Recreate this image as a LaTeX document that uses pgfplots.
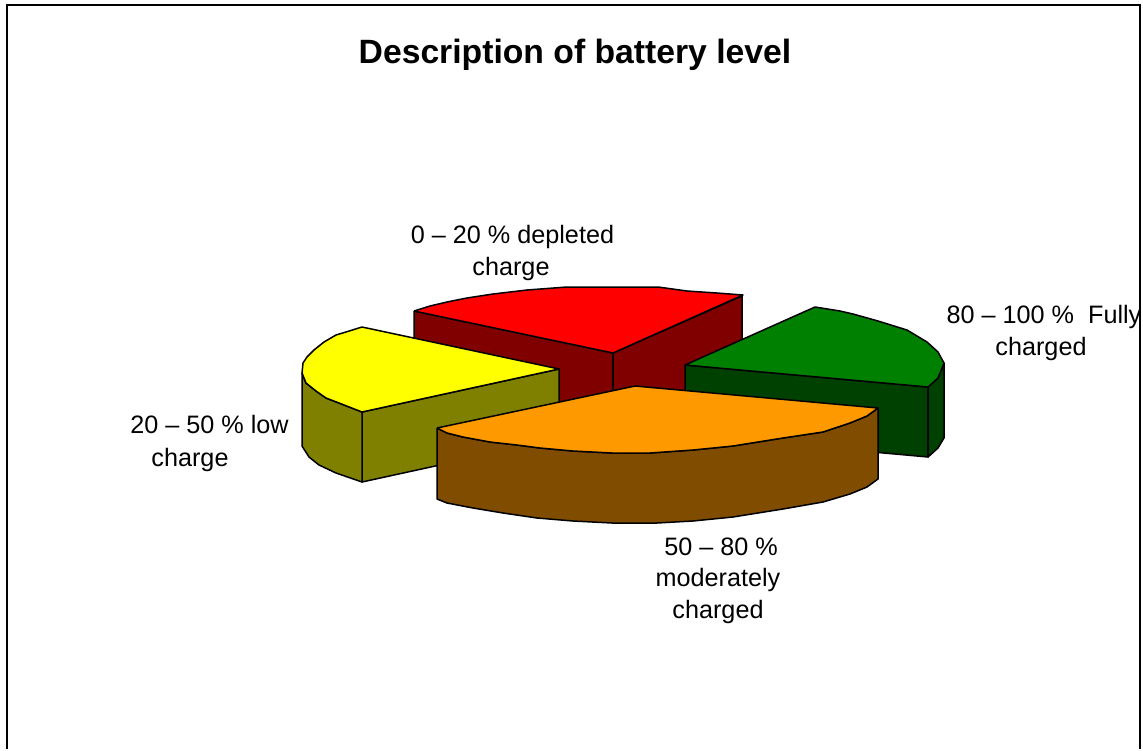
\documentclass[border=0pt]{standalone}
\usepackage{pgfplots}
\pgfplotsset{compat=1.18}
\usepackage{fontspec}
\setmainfont{Liberation Sans}
\definecolor{cred}{HTML}{FF0000}
\definecolor{dred}{HTML}{800000}
\definecolor{cyel}{HTML}{FFFF00}
\definecolor{dyel}{HTML}{808000}
\definecolor{cgre}{HTML}{008000}
\definecolor{dgre}{HTML}{004000}
\definecolor{cora}{HTML}{FF9900}
\definecolor{dora}{HTML}{804C00}
\tikzset{lab/.style={anchor=base, font=\fontsize{25.2}{30}\selectfont, text=black, inner sep=0pt}}
\begin{document}
\begin{tikzpicture}
\begin{axis}[
  scale only axis, width=1143pt, height=750pt,
  xmin=0, xmax=1143, ymin=0, ymax=750, y dir=reverse,
  hide axis, clip=false,
  every axis plot/.append style={draw=black, line width=1.5pt, line join=round, mark=none}
]
% page background, fixes the size of the picture
\addplot[draw=none, fill=white] coordinates {(0,0)(1143,0)(1143,750)(0,750)(0,0)};
% frame
\addplot[draw=black, line width=2.2pt, line join=miter] coordinates {(7,749)(7,5)(1140,5)(1140,749)};
% red slice
\addplot[fill=dred] coordinates {(414,311)(613,353)(613,423)(414,381)(414,311)};
\addplot[fill=dred] coordinates {(613,353)(742,296)(742,366)(613,423)(613,353)};
\addplot[fill=cred] coordinates {(414,311)(430,306)(447,302)(467,298)(493,294)(527,290)(567,287)(658,287)(687,291)(717,293)(743,295)(613,353)(414,311)};
% yellow slice
\addplot[fill=dyel] coordinates {(362,412)(559,369)(559,439)(362,482)(362,412)};
\addplot[fill=dyel] coordinates {(302,373)(306,383)(316,391)(326,398)(339,403)(362,412)(362,482)(336,473)(319,465)(309,457)(302,446)(302,373)};
\addplot[fill=cyel] coordinates {(362,327)(346,332)(336,335)(324,342)(314,350)(307,357)(303,363)(302,373)(306,383)(316,391)(326,398)(339,403)(362,412)(559,369)(362,327)};
% green slice
\addplot[fill=dgre] coordinates {(685,365)(928,387)(928,457)(685,435)(685,365)};
\addplot[fill=dgre] coordinates {(928,387)(938,378)(944,363)(944,438)(938,448)(928,457)(928,387)};
\addplot[fill=cgre] coordinates {(815,307)(840,311)(853,314)(878,321)(907,330)(927,342)(938,352)(944,363)(938,378)(928,387)(685,365)(815,307)};
% orange slice
\addplot[fill=dora] coordinates {(437,428)(447,433)(463,437)(490,442)(517,445)(540,448)(573,451)(612,453)(650,453)(693,450)(733,446)(783,438)(823,432)(850,423)(867,416)(878,408)(878,479)(867,487)(850,494)(823,502)(783,509)(733,517)(693,521)(657,523)(612,523)(573,521)(537,518)(503,513)(473,508)(447,503)(437,499)(437,428)};
\addplot[fill=cora] coordinates {(437,428)(635,386)(878,408)(867,416)(850,423)(823,432)(783,438)(733,446)(693,450)(650,453)(612,453)(573,451)(540,448)(517,445)(490,442)(463,437)(447,433)(437,428)};
% texts
\node[anchor=base, inner sep=0pt, font=\fontsize{33.7}{40}\selectfont\bfseries] at (axis cs:575,63) {Description of battery level};
\node[lab] at (axis cs:512.5,243) {0 – 20 \% depleted};
\node[lab] at (axis cs:511,275) {charge};
\node[lab] at (axis cs:1044,323) {80 – 100 \%\ \ Fully};
\node[lab] at (axis cs:1041,355) {charged};
\node[lab] at (axis cs:209.5,433) {20 – 50 \% low};
\node[lab] at (axis cs:190,466) {charge};
\node[lab] at (axis cs:721,555) {50 – 80 \%};
\node[lab] at (axis cs:718,586) {moderately};
\node[lab] at (axis cs:718,618) {charged};
\end{axis}
\end{tikzpicture}
\end{document}
